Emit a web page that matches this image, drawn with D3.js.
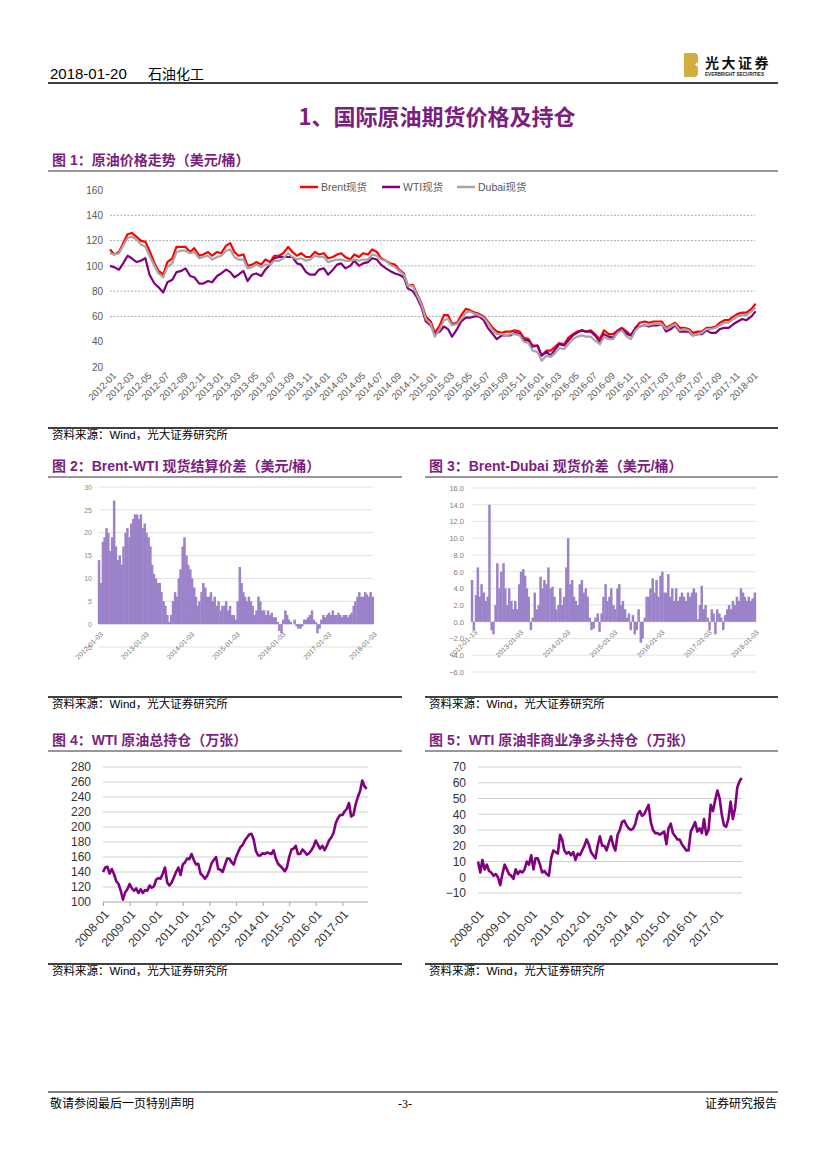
<!doctype html>
<html>
<meta charset="utf-8">
<style>
body { margin: 0; padding: 0; background: #fff; }
svg text { font-family: 'Liberation Sans', 'Noto Sans CJK SC', sans-serif; }
</style>
<body>
<script src="https://cdn.jsdelivr.net/npm/d3@7/dist/d3.min.js"></script>
<script>

// ---- data ----

// fig 1: spot prices, 1st and 15th of each month from 2012-01
var brent = [
  113,109,111,118,125,126,123,120,119,112,102,96,93,103,106,115,115,115,111,114,108,109,111,108,
  111,110,116,118,111,108,109,100,101,103,101,105,103,108,108,110,115,111,108,110,107,107,111,109,
  110,106,107,109,110,107,105,109,107,110,109,113,111,106,104,102,101,97,94,84,85,78,70,60,
  56,47,53,61,61,54,55,61,66,65,63,62,60,56,51,48,47,48,48,49,48,43,42,37,
  37,29,33,33,36,39,38,43,46,48,49,48,49,46,42,49,46,46,49,51,48,45,51,55,
  56,55,56,56,56,51,53,55,51,51,50,47,48,48,51,51,52,55,57,57,60,62,63,63,
  66,70
];
var wti = [
  100,99,97,102,108,106,103,104,106,93,86,83,79,87,89,95,96,98,92,91,86,86,88,87,
  92,94,97,95,91,93,96,88,93,94,92,97,101,106,107,107,107,107,102,101,95,93,93,97,
  98,93,97,101,102,98,100,104,100,102,103,106,105,101,98,96,94,93,91,82,80,75,67,56,
  53,46,48,52,50,44,50,56,59,59,60,60,57,51,46,42,45,45,45,47,46,41,41,36,
  37,29,32,29,34,38,37,41,45,47,49,48,48,45,40,46,44,43,48,50,46,45,51,52,
  53,52,53,53,54,48,50,53,48,48,48,45,46,46,49,47,47,50,51,51,54,56,58,57,
  60,64
];
var dubai = [
  110,109,110,116,122,123,121,117,115,108,100,94,91,99,102,111,112,112,110,111,106,107,108,105,
  107,108,112,113,107,105,105,98,99,101,99,101,101,104,104,106,110,107,105,106,104,105,108,107,
  107,103,104,105,105,104,104,105,104,105,105,109,108,105,104,101,99,96,93,84,84,77,69,58,
  54,44,50,57,58,53,54,58,63,64,62,61,59,55,49,46,46,45,46,46,45,40,39,33,
  32,25,29,28,31,35,34,38,42,44,45,44,44,41,38,44,42,42,47,49,44,42,49,52,
  53,53,54,54,54,50,52,54,49,50,49,45,46,47,50,50,51,53,55,55,58,60,61,61,
  64,67
];
var priceTicks = [20, 40, 60, 80, 100, 120, 140, 160];
var priceGrid = [60, 80, 100, 120, 140];
var seriesNames = ["Brent现货", "WTI现货", "Dubai现货"];
var seriesColors = ["#FF0000", "#800080", "#A5A5A5"];

// fig 2: Brent-WTI spread, twice a month from 2012-01
var brentWti = [
  14,9,18,19,21,20,16,19,27,17,14,15,13,17,20,21,19,22,23,24,24,23,24,21,
  22,20,19,17,13,11,10,9,9,7,5,4,2,0.5,2,5,7,6,10,12,17,19,15,13,
  12,10,8,6,4,5,7,9,8,6,6,7,5,6,4,5,3,4,4,5,3,4,2,2,
  1,5,12.5,9,7,6,5,6,5,4,2,3,6,5,3,3,2,3,2,2.5,1.5,1.5,0.5,-1.5,
  -2,1,3,2,1,0.5,0,1,-0.5,-1,-1,-0.5,1,1,1.5,2,3,1,0.5,-2,-1,1,2,1.5,
  2,2.5,2,3,2,2,2.5,2,1.5,2,2,1.5,2,2.5,4,5,6,7,6,6,7,6.5,6,7,
  6
];
var spreadTicks2 = [-5, 0, 5, 10, 15, 20, 25, 30];
var dateLabels2 = ["2012-01-03","2013-01-03","2014-01-03","2015-01-03","2016-01-03","2017-01-03","2018-01-03"];

// fig 3: Brent-Dubai spread, twice a month from 2012-01
var brentDubai = [
  5,-1,3.2,6.5,3,4.5,3.5,2.5,3,14,-1,-1.5,2,7,4,6,7,4,2,4,2.5,1.5,2.5,1.5,
  4.5,6,6.3,5.5,4,3,-1,0.5,3.5,1.5,2,5.4,4,5,4.5,6.5,4,4.2,3,1.5,2,4,2,3,
  6.5,10,4.5,5,3,2.5,2,4.5,5,3.5,4,3,0.5,-1,-0.8,0.5,1,-1.2,1,3,4.5,2.5,3,4,
  2,1.5,4,4.5,2,2.5,1.5,0.5,1,-1,0.8,-1.5,-1,1.5,-2.5,-2,0.5,3,3,4,5.2,3.5,5,3,
  5.5,6,3.5,3.5,5.7,3,4,2.5,4,2.5,3,3.5,3,2.5,3.5,3,3.5,4,3.5,0.3,2,4.3,1.5,2,
  0.5,-1,1.5,1,-1.5,1.5,1,0.5,-1,0.8,1.5,2,1.5,2.5,2,3,2.5,4,3.5,3,2.5,3,2.5,2.8,
  3.5
];
var spreadTicks3 = [-6, -4, -2, 0, 2, 4, 6, 8, 10, 12, 14, 16];
var dateLabels3 = ["2012-01-13","2013-01-03","2014-01-03","2015-01-03","2016-01-03","2017-01-03","2018-01-03"];

// fig 4: WTI total open interest, monthly from 2008-01
var openInterest = [
  140,146,147,138,144,137,128,124,115,103,113,117,
  124,118,115,118,112,117,112,116,115,122,119,121,
  130,132,131,138,146,126,122,126,133,140,146,136,
  150,153,158,157,164,156,150,151,138,135,131,135,
  142,152,156,160,144,143,140,149,158,158,153,150,
  160,167,173,176,182,186,190,191,183,168,162,162,
  165,164,166,165,164,169,158,151,148,145,141,146,
  160,170,171,175,164,164,170,167,163,165,169,174,
  182,176,171,175,169,175,182,186,192,205,212,216,
  216,221,224,232,214,216,230,240,248,262,254,251
];
var oiTicks = [100, 120, 140, 160, 180, 200, 220, 240, 260, 280];

// fig 5: WTI non-commercial net long, monthly from 2008-01
var netLong = [
  10,3,11,5,8,4,3,1,2,0,-5,2,
  8,5,2,1,-1,5,2,4,3,5,10,8,
  14,5,12,12,8,3,4,2,1,12,17,16,
  15,27,24,17,15,16,14,16,11,15,14,17,
  20,24,21,16,14,12,20,26,20,20,17,22,
  26,20,17,27,30,35,36,33,31,30,31,34,
  40,42,39,40,43,46,35,30,28,28,27,28,
  29,21,31,34,28,26,24,24,21,19,17,17,
  29,32,35,29,31,28,37,27,30,46,42,49,
  55,50,40,33,32,37,48,37,44,57,61,63
];
var nlTicks = [-10, 0, 10, 20, 30, 40, 50, 60, 70];
var yearLabels = ["2008-01","2009-01","2010-01","2011-01","2012-01","2013-01","2014-01","2015-01","2016-01","2017-01"];

// ---- helpers ----
var purple = "#7B1F7E";
var parseDay = d3.timeParse("%Y-%m-%d");
var parseMonth = d3.timeParse("%Y-%m");

function halfMonths(n) {
  var out = [];
  for (var i = 0; i < n; i++) out.push(new Date(2012, Math.floor(i / 2), i % 2 ? 15 : 1));
  return out;
}
function months(n) {
  var out = [];
  for (var i = 0; i < n; i++) out.push(new Date(2008, i, 1));
  return out;
}

var svg = d3.select("body").append("svg").attr("width", 827).attr("height", 1169);

function rule(x1, x2, y, w, c) {
  svg.append("line").attr("x1", x1).attr("x2", x2).attr("y1", y).attr("y2", y)
    .attr("stroke", c || "#000").attr("stroke-width", w || 1);
}
function label(x, y, s, size, color, weight, anchor, family) {
  return svg.append("text").attr("x", x).attr("y", y).text(s)
    .attr("font-size", size).attr("fill", color || "#000")
    .attr("font-weight", weight || "normal")
    .attr("text-anchor", anchor || "start")
    .style("font-family", family || null);
}
function figTitle(x, y, s, x2) {
  label(x, y, s, 14, purple, "bold");
  rule(x - 4, x2, y + 6, 1.2, "#333");
}
function source(x, y, x2) {
  rule(x - 4, x2, y - 11, 1.5, "#000");
  svg.append("text").attr("x", x).attr("y", y).attr("font-size", 11.5).attr("fill", "#000")
    .text("资料来源：Wind，光大证券研究所");
}

// ---- page header / footer ----
label(50, 79, "2018-01-20", 15, "#000", "normal", "start", "'Liberation Sans Narrow', sans-serif");
label(148, 79, "石油化工", 14, "#000", "normal", "start", "'Noto Sans CJK SC', sans-serif");
rule(48, 778, 83, 1.5, "#000");

// logo
svg.append("path")
  .attr("d", "M684,53 h10 q4,0 4,4 v5 l-3,2.5 l3,2.5 v6 q0,4 -4,4 h-10 z")
  .attr("fill", "#D2AE3F");
label(705, 68, "光大证券", 14, "#111", "bold", "start", "'Noto Sans CJK SC', sans-serif")
  .attr("letter-spacing", 2.5);
label(705, 76, "EVERBRIGHT SECURITIES", 4.6, "#222", "bold");

label(437, 125, "1、国际原油期货价格及持仓", 22, purple, "bold", "middle", "'Noto Sans CJK SC', sans-serif");

rule(48, 778, 1092, 1.2, "#000");
label(50, 1108, "敬请参阅最后一页特别声明", 12, "#000", "normal", "start", "'Noto Sans CJK SC', sans-serif");
label(405, 1108, "-3-", 12, "#000", "normal", "middle", "'Liberation Serif', serif");
label(777, 1108, "证券研究报告", 12, "#000", "normal", "end", "'Noto Sans CJK SC', sans-serif");

// ---- fig 1 ----
figTitle(52, 165, "图 1：原油价格走势（美元/桶）", 778);

var dates1 = halfMonths(brent.length);
var x1 = d3.scaleTime().domain([new Date(2012, 0, 1), new Date(2018, 0, 20)]).range([110, 757]);
var y1 = d3.scaleLinear().domain([20, 160]).range([367, 190]);
var g1 = svg.append("g");

g1.append("g").selectAll("line").data(priceGrid).join("line")
  .attr("x1", 110).attr("x2", 755)
  .attr("y1", function(d) { return y1(d); }).attr("y2", function(d) { return y1(d); })
  .attr("stroke", "#9A9A9A").attr("stroke-width", 0.8).attr("stroke-dasharray", "2,1.5");

var ay1 = g1.append("g").attr("transform", "translate(103,0)")
  .call(d3.axisLeft(y1).tickValues(priceTicks).tickSize(0).tickPadding(0));
ay1.select(".domain").remove();
ay1.selectAll("text").attr("font-size", 10).attr("fill", "#595959");

var ax1 = g1.append("g").attr("transform", "translate(0,367)")
  .call(d3.axisBottom(x1)
    .tickValues(d3.timeMonth.every(2).range(new Date(2012, 0, 1), new Date(2018, 0, 2)))
    .tickFormat(d3.timeFormat("%Y-%m")).tickSize(0));
ax1.select(".domain").remove();
ax1.selectAll("text").attr("y", 0).attr("dy", "0.35em")
  .attr("transform", "translate(4,7) rotate(-45)").style("text-anchor", "end")
  .attr("font-size", 9.5).attr("fill", "#595959");

var line1 = d3.line().x(function(d) { return x1(d.date); }).y(function(d) { return y1(d.v); });
[brent, wti, dubai].forEach(function(arr, k) {
  var pts = arr.map(function(v, i) { return { date: dates1[i], v: v }; });
  g1.append("path").datum(pts).attr("d", line1).attr("fill", "none")
    .attr("stroke", seriesColors[k]).attr("stroke-width", 2.2).attr("stroke-linejoin", "round");
});

// legend
var legX = [300, 382, 457];
seriesNames.forEach(function(n, k) {
  g1.append("line").attr("x1", legX[k]).attr("x2", legX[k] + 18).attr("y1", 187).attr("y2", 187)
    .attr("stroke", seriesColors[k]).attr("stroke-width", 2.5);
  g1.append("text").attr("x", legX[k] + 21).attr("y", 191).attr("font-size", 10.5)
    .attr("fill", "#595959").text(n);
});

source(52, 439, 778);

// ---- fig 2 ----
figTitle(52, 471, "图 2：Brent-WTI 现货结算价差（美元/桶）", 402);

var dates2 = halfMonths(brentWti.length);
var x2 = d3.scaleTime().domain([new Date(2012, 0, 1), new Date(2018, 0, 3)]).range([99, 373]);
var y2 = d3.scaleLinear().domain([-5, 30]).range([647, 487]);
var g2 = svg.append("g");

g2.append("g").selectAll("line").data(spreadTicks2).join("line")
  .attr("x1", 99).attr("x2", 373)
  .attr("y1", function(d) { return y2(d); }).attr("y2", function(d) { return y2(d); })
  .attr("stroke", "#D9D9D9").attr("stroke-width", 0.8);

g2.append("g").selectAll("rect").data(brentWti).join("rect")
  .attr("x", function(d, i) { return x2(dates2[i]) - 1.2; })
  .attr("width", 2.5)
  .attr("y", function(d) { return y2(Math.max(0, d)); })
  .attr("height", function(d) { return Math.abs(y2(d) - y2(0)); })
  .attr("fill", "#9B82C9");

var ay2 = g2.append("g").attr("transform", "translate(92,0)")
  .call(d3.axisLeft(y2).tickValues(spreadTicks2).tickSize(0).tickPadding(0));
ay2.select(".domain").remove();
ay2.selectAll("text").attr("font-size", 7).attr("fill", "#8C8C8C");

var ax2 = g2.append("g").attr("transform", "translate(0,624)")
  .call(d3.axisBottom(x2).tickValues(dateLabels2.map(parseDay))
    .tickFormat(d3.timeFormat("%Y-%m-%d")).tickSize(0));
ax2.select(".domain").remove();
ax2.selectAll("text").attr("y", 0).attr("dy", "0.35em")
  .attr("transform", "translate(2,9) rotate(-45)").style("text-anchor", "end")
  .attr("font-size", 7).attr("fill", "#777");

source(52, 708, 402);

// ---- fig 3 ----
figTitle(429, 471, "图 3：Brent-Dubai 现货价差（美元/桶）", 778);

var dates3 = halfMonths(brentDubai.length);
var x3 = d3.scaleTime().domain([new Date(2012, 0, 1), new Date(2018, 0, 10)]).range([472, 756]);
var y3 = d3.scaleLinear().domain([-6, 16]).range([672, 488]);
var g3 = svg.append("g");

g3.append("g").selectAll("line").data(spreadTicks3).join("line")
  .attr("x1", 472).attr("x2", 756)
  .attr("y1", function(d) { return y3(d); }).attr("y2", function(d) { return y3(d); })
  .attr("stroke", "#DEDEDE").attr("stroke-width", 0.8);

g3.append("g").selectAll("rect").data(brentDubai).join("rect")
  .attr("x", function(d, i) { return x3(dates3[i]) - 1.2; })
  .attr("width", 2.5)
  .attr("y", function(d) { return y3(Math.max(0, d)); })
  .attr("height", function(d) { return Math.abs(y3(d) - y3(0)); })
  .attr("fill", "#9B82C9");

var ay3 = g3.append("g").attr("transform", "translate(464,0)")
  .call(d3.axisLeft(y3).tickValues(spreadTicks3).tickFormat(d3.format(".1f")).tickSize(0).tickPadding(0));
ay3.select(".domain").remove();
ay3.selectAll("text").attr("font-size", 7.5).attr("fill", "#808080");

var ax3 = g3.append("g").attr("transform", "translate(0,622)")
  .call(d3.axisBottom(x3).tickValues(dateLabels3.map(parseDay))
    .tickFormat(d3.timeFormat("%Y-%m-%d")).tickSize(0));
ax3.select(".domain").remove();
ax3.selectAll("text").attr("y", 0).attr("dy", "0.35em")
  .attr("transform", "translate(2,9) rotate(-45)").style("text-anchor", "end")
  .attr("font-size", 7).attr("fill", "#777");

source(429, 708, 778);

// ---- fig 4 ----
figTitle(52, 745, "图 4：WTI 原油总持仓（万张）", 402);

var dates4 = months(openInterest.length);
var x4 = d3.scaleTime().domain([new Date(2008, 0, 1), new Date(2018, 0, 1)]).range([103, 369]);
var y4 = d3.scaleLinear().domain([100, 280]).range([902, 767]);
var g4 = svg.append("g");

g4.append("g").selectAll("line").data(oiTicks).join("line")
  .attr("x1", 103).attr("x2", 368)
  .attr("y1", function(d) { return y4(d); }).attr("y2", function(d) { return y4(d); })
  .attr("stroke", function(d) { return d === 100 ? "#A6A6A6" : "#CFCFCF"; }).attr("stroke-width", 1);

var ay4 = g4.append("g").attr("transform", "translate(91,0)")
  .call(d3.axisLeft(y4).tickValues(oiTicks).tickSize(0).tickPadding(0));
ay4.select(".domain").remove();
ay4.selectAll("text").attr("font-size", 12).attr("fill", "#333");

var ax4 = g4.append("g").attr("transform", "translate(0,902)")
  .call(d3.axisBottom(x4).tickValues(yearLabels.map(parseMonth))
    .tickFormat(d3.timeFormat("%Y-%m")).tickSize(4));
ax4.select(".domain").remove();
ax4.selectAll("line").attr("stroke", "#A6A6A6");
ax4.selectAll("text").attr("y", 0).attr("dy", "0.35em")
  .attr("transform", "translate(3,10) rotate(-48)").style("text-anchor", "end")
  .attr("font-size", 12).attr("fill", "#333");

g4.append("path")
  .datum(openInterest.map(function(v, i) { return { date: dates4[i], v: v }; }))
  .attr("d", d3.line().x(function(d) { return x4(d.date); }).y(function(d) { return y4(d.v); }))
  .attr("fill", "none").attr("stroke", "#800080").attr("stroke-width", 2.6).attr("stroke-linejoin", "round");

source(52, 975, 402);

// ---- fig 5 ----
figTitle(429, 745, "图 5：WTI 原油非商业净多头持仓（万张）", 778);

var dates5 = months(netLong.length);
var x5 = d3.scaleTime().domain([new Date(2008, 0, 1), new Date(2018, 0, 1)]).range([478, 744]);
var y5 = d3.scaleLinear().domain([-10, 70]).range([893, 767]);
var g5 = svg.append("g");

g5.append("g").selectAll("line").data(nlTicks).join("line")
  .attr("x1", 478).attr("x2", 742)
  .attr("y1", function(d) { return y5(d); }).attr("y2", function(d) { return y5(d); })
  .attr("stroke", "#CFCFCF").attr("stroke-width", 1);

var ay5 = g5.append("g").attr("transform", "translate(466,0)")
  .call(d3.axisLeft(y5).tickValues(nlTicks).tickSize(0).tickPadding(0));
ay5.select(".domain").remove();
ay5.selectAll("text").attr("font-size", 12).attr("fill", "#333");

var ax5 = g5.append("g").attr("transform", "translate(0,902)")
  .call(d3.axisBottom(x5).tickValues(yearLabels.map(parseMonth))
    .tickFormat(d3.timeFormat("%Y-%m")).tickSize(0));
ax5.select(".domain").remove();
ax5.selectAll("text").attr("y", 0).attr("dy", "0.35em")
  .attr("transform", "translate(3,10) rotate(-48)").style("text-anchor", "end")
  .attr("font-size", 12).attr("fill", "#333");

g5.append("path")
  .datum(netLong.map(function(v, i) { return { date: dates5[i], v: v }; }))
  .attr("d", d3.line().x(function(d) { return x5(d.date); }).y(function(d) { return y5(d.v); }))
  .attr("fill", "none").attr("stroke", "#800080").attr("stroke-width", 2.6).attr("stroke-linejoin", "round");

source(429, 975, 778);

</script>
</body>
</html>
